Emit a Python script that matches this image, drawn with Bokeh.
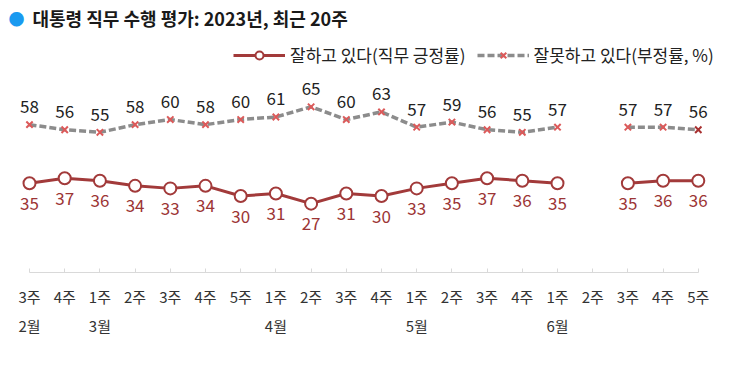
from bokeh.plotting import figure
from bokeh.models import (ColumnDataSource, Range1d, FixedTicker, LinearAxis, Label,
                          Legend, LegendItem)
from bokeh.embed import file_html
from bokeh.resources import INLINE
from bokeh.core.properties import value
import math

NAN = float("nan")

# ---- data ----
weeks = ["3주", "4주", "1주", "2주", "3주", "4주", "5주", "1주", "2주", "3주",
         "4주", "1주", "2주", "3주", "4주", "1주", "2주", "3주", "4주", "5주"]
month_pos = [0, 2, 7, 11, 15]
months = ["2월", "3월", "4월", "5월", "6월"]
positive = [35, 37, 36, 34, 33, 34, 30, 31, 27, 31, 30, 33, 35, 37, 36, 35, NAN, 35, 36, 36]
negative = [58, 56, 55, 58, 60, 58, 60, 61, 65, 60, 63, 57, 59, 56, 55, 57, NAN, 57, 57, 56]
title_text = "대통령 직무 수행 평가: 2023년, 최근 20주"
pos_name = "잘하고 있다(직무 긍정률)"
neg_name = "잘못하고 있다(부정률, %)"

FONT = "Noto Sans CJK KR"
POS_COLOR = "#a23a3a"
POS_LABEL = "#9c3535"
NEG_LINE = "#8c8c8c"
NEG_MARK = "#dc5a5a"
NEG_MARK_LAST = "#a83030"

x = list(range(len(weeks)))

p = figure(width=730, height=365, output_backend="svg", toolbar_location=None,
           x_range=Range1d(-0.824, 19.915), y_range=Range1d(0, 106.7),
           min_border_left=0, min_border_right=0, min_border_top=0,
           min_border_bottom=93, y_axis_location=None, x_axis_location=None)
p.outline_line_color = None
p.grid.visible = False
p.background_fill_color = "white"
p.border_fill_color = "white"

# ---- series ----
src_p = ColumnDataSource(dict(x=x, y=positive))
neg_colors = [NEG_MARK] * (len(x) - 1) + [NEG_MARK_LAST]
src_n = ColumnDataSource(dict(x=x, y=negative, c=neg_colors))

ln = p.line("x", "y", source=src_n, line_color=NEG_LINE, line_width=3.5, line_dash="7 3")
sn = p.scatter("x", "y", source=src_n, marker="x", size=9, line_color="c", line_width=2)
lp = p.line("x", "y", source=src_p, line_color=POS_COLOR, line_width=3)
sp = p.scatter("x", "y", source=src_p, marker="circle", size=12, fill_color="white",
               line_color=POS_COLOR, line_width=2)

# ---- value labels ----
pi = [i for i in x if not math.isnan(positive[i])]
ni = [i for i in x if not math.isnan(negative[i])]
lab_p = ColumnDataSource(dict(x=pi, y=[positive[i] for i in pi],
                              t=[str(int(positive[i])) for i in pi]))
lab_n = ColumnDataSource(dict(x=ni, y=[negative[i] for i in ni],
                              t=[str(int(negative[i])) for i in ni]))
p.text("x", "y", text="t", source=lab_p, text_align="center", text_baseline="middle",
       y_offset=20, text_color=POS_LABEL, text_font=value(FONT), text_font_size="17px")
p.text("x", "y", text="t", source=lab_n, text_align="center", text_baseline="middle",
       y_offset=-18, text_color="#222222", text_font=value(FONT), text_font_size="17px")

# ---- axes ----
ax = LinearAxis(ticker=FixedTicker(ticks=x),
                major_label_overrides={i: w for i, w in zip(x, weeks)})
ax.bounds = (x[0], x[-1])
ax.axis_line_color = "#d9d9d9"
ax.major_tick_line_color = "#d9d9d9"
ax.major_tick_in = 4
ax.major_tick_out = 0
ax.minor_tick_line_color = None
ax.major_label_standoff = 13
ax.major_label_text_font = FONT
ax.major_label_text_font_size = "15px"
ax.major_label_text_color = "#333333"
p.add_layout(ax, "below")

ax2 = LinearAxis(ticker=FixedTicker(ticks=month_pos),
                 major_label_overrides={i: m for i, m in zip(month_pos, months)})
ax2.axis_line_color = None
ax2.major_tick_line_color = None
ax2.major_tick_in = 0
ax2.major_tick_out = 0
ax2.minor_tick_line_color = None
ax2.major_label_standoff = 5
ax2.major_label_text_font = FONT
ax2.major_label_text_font_size = "15px"
ax2.major_label_text_color = "#333333"
p.add_layout(ax2, "below")

# ---- title ----
p.add_layout(Label(x=16, y=255, x_units="screen", y_units="screen", text="●",
                   text_color="#1a9af0", text_font=FONT, text_font_size="16px",
                   text_align="center", text_baseline="middle"))
p.add_layout(Label(x=32, y=255, x_units="screen", y_units="screen", text=title_text,
                   text_color="#1a1a1a", text_font=FONT, text_font_size="18px",
                   text_font_style="bold", text_baseline="middle"))

# ---- legend ----
legend = Legend(items=[LegendItem(label=pos_name, renderers=[lp, sp]),
                       LegendItem(label=neg_name, renderers=[ln, sn])],
                location=(233, 205), orientation="horizontal",
                glyph_width=52, glyph_height=20, label_standoff=5, spacing=11,
                padding=0, margin=0, border_line_color=None, background_fill_alpha=0,
                label_text_font=FONT, label_text_font_size="17px",
                label_text_color="#222222")
p.add_layout(legend, "center")

open("out.html", "w").write(file_html(p, INLINE))
